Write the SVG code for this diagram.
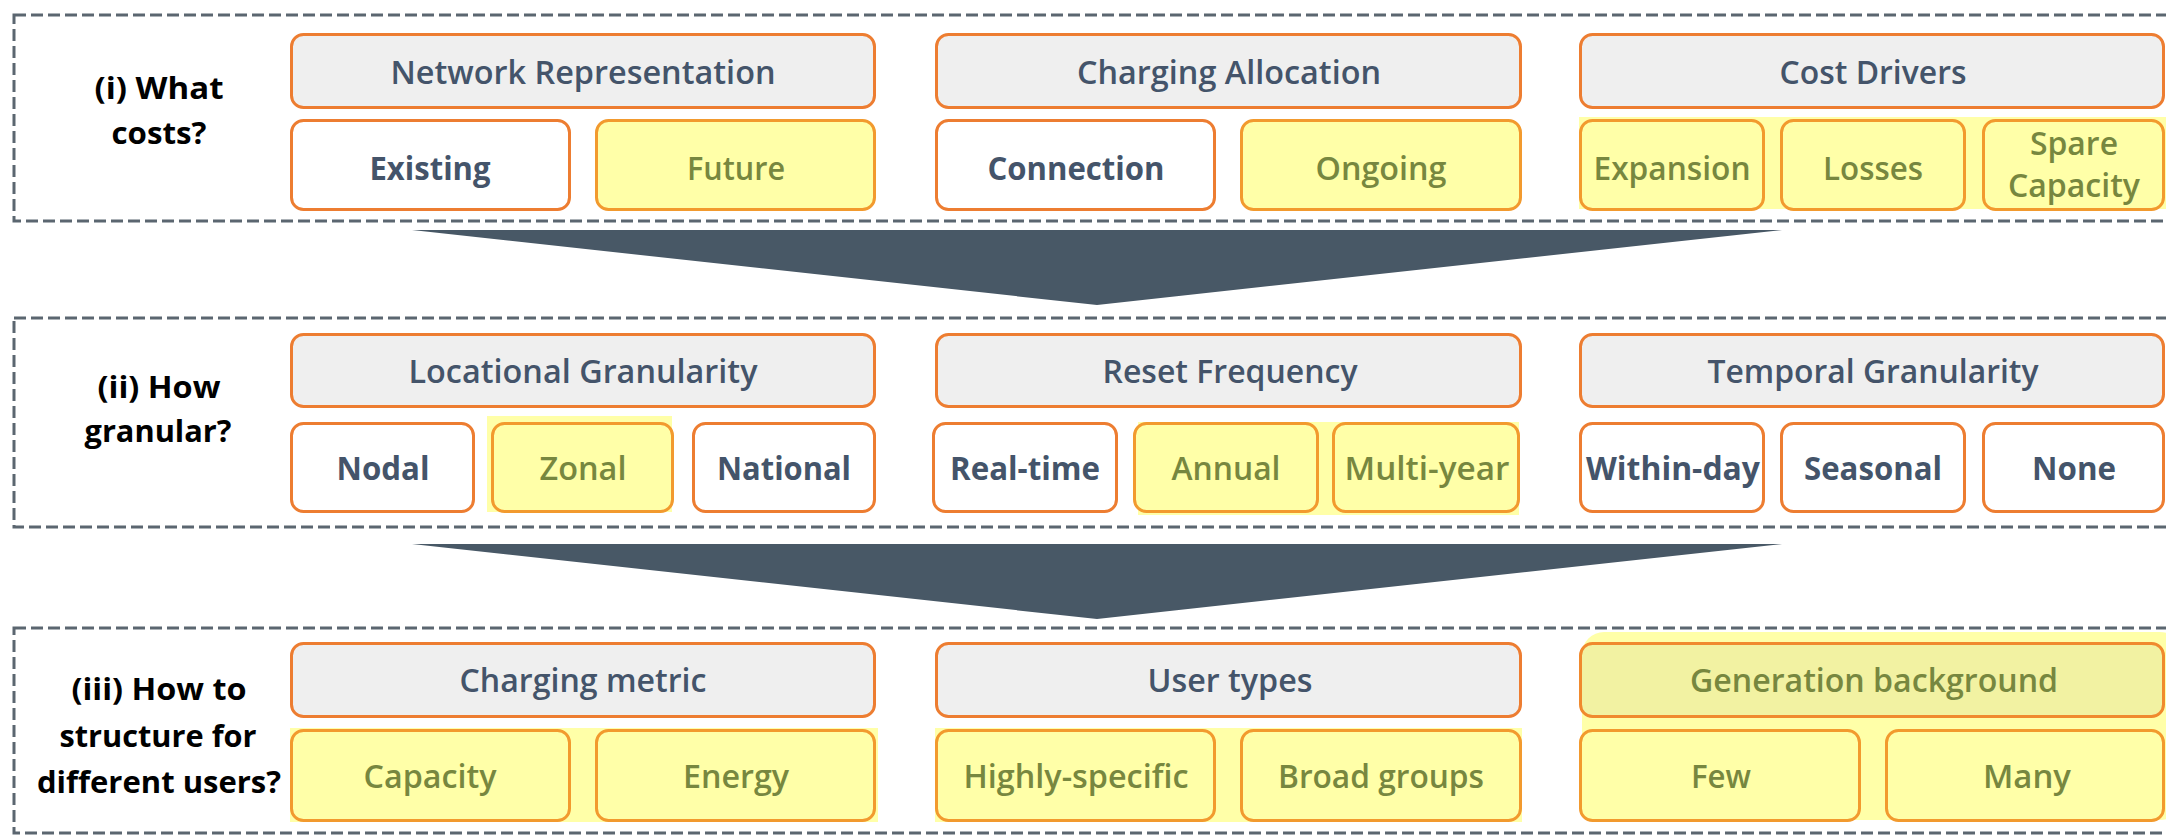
<svg xmlns="http://www.w3.org/2000/svg" width="2166" height="835" viewBox="0 0 2166 835">
<style>
.sec{fill:none;stroke:#5b6670;stroke-width:3;stroke-dasharray:12 5}
.hl{fill:#FFFFA8;stroke:none}
.hd{fill:#EFEFEF;stroke:#ED7D31;stroke-width:3}
.hdy{fill:#F2F2A2;stroke:#F08A2E;stroke-width:3}
.w{fill:#FFFFFF;stroke:#ED7D31;stroke-width:3}
.y{fill:#FFFFA8;stroke:#F29A2E;stroke-width:3}
text{font-family:"Open Sans","Liberation Sans",sans-serif;text-anchor:middle}
.th{font-size:32px;fill:#44546A;font-weight:600}
.ts{font-size:33px;fill:#44546A;font-weight:700}
.tsy{font-size:33px;fill:#77873F;font-weight:600}
.thy{font-size:32px;fill:#77873F;font-weight:600}
.lab{font-size:30px;fill:#000000;font-weight:700}
.arr{fill:#485866}
</style>

<!-- section frames -->
<g id="frames">
<rect class="sec" x="14" y="15" width="2170" height="206"/>
<rect class="sec" x="14" y="318" width="2170" height="209"/>
<rect class="sec" x="14" y="628" width="2170" height="205"/>
</g>

<!-- highlighter backgrounds -->
<g id="highlights">
<rect class="hl" x="1579" y="117" width="590" height="92"/>
<rect class="hl" x="487" y="416" width="185" height="96"/>
<rect class="hl" x="1138" y="422" width="381" height="93"/>
<rect class="hl" x="290" y="728" width="588" height="94"/>
<rect class="hl" x="935" y="728" width="587" height="94"/>
<rect class="hl" x="1582" y="632" width="600" height="188" rx="22"/>
</g>

<!-- connectors -->
<g id="connectors">
<polygon class="arr" points="412,230 1782,230 1097,305"/>
<polygon class="arr" points="412,544 1782,544 1097,619"/>
</g>

<!-- section labels -->
<g id="label-i">
<text class="lab" x="159" y="99" textLength="129" lengthAdjust="spacingAndGlyphs">(i) What</text>
<text class="lab" x="159" y="144" textLength="95" lengthAdjust="spacingAndGlyphs">costs?</text>
</g>
<g id="label-ii">
<text class="lab" x="159" y="398" textLength="123" lengthAdjust="spacingAndGlyphs">(ii) How</text>
<text class="lab" x="158" y="442" textLength="147" lengthAdjust="spacingAndGlyphs">granular?</text>
</g>
<g id="label-iii">
<text class="lab" x="159" y="700" textLength="175" lengthAdjust="spacingAndGlyphs">(iii) How to</text>
<text class="lab" x="158" y="747" textLength="197" lengthAdjust="spacingAndGlyphs">structure for</text>
<text class="lab" x="159" y="793" textLength="244" lengthAdjust="spacingAndGlyphs">different users?</text>
</g>

<!-- Section i -->
<g id="network-representation">
<rect class="hd" x="291.5" y="34.5" width="583" height="73" rx="12"/>
<text class="th" x="583" y="84" textLength="385" lengthAdjust="spacingAndGlyphs">Network Representation</text>
</g>
<g id="existing">
<rect class="w" x="291.5" y="120.5" width="278" height="89" rx="12"/>
<text class="ts" x="430" y="180" textLength="121" lengthAdjust="spacingAndGlyphs">Existing</text>
</g>
<g id="future">
<rect class="y" x="596.5" y="120.5" width="278" height="89" rx="12"/>
<text class="tsy" x="736" y="180" textLength="98" lengthAdjust="spacingAndGlyphs">Future</text>
</g>
<g id="charging-allocation">
<rect class="hd" x="936.5" y="34.5" width="584" height="73" rx="12"/>
<text class="th" x="1229" y="84" textLength="304" lengthAdjust="spacingAndGlyphs">Charging Allocation</text>
</g>
<g id="connection">
<rect class="w" x="936.5" y="120.5" width="278" height="89" rx="12"/>
<text class="ts" x="1076" y="180" textLength="177" lengthAdjust="spacingAndGlyphs">Connection</text>
</g>
<g id="ongoing">
<rect class="y" x="1241.5" y="120.5" width="279" height="89" rx="12"/>
<text class="tsy" x="1381" y="180" textLength="131" lengthAdjust="spacingAndGlyphs">Ongoing</text>
</g>
<g id="cost-drivers">
<rect class="hd" x="1580.5" y="34.5" width="583" height="73" rx="12"/>
<text class="th" x="1873" y="84" textLength="187" lengthAdjust="spacingAndGlyphs">Cost Drivers</text>
</g>
<g id="expansion">
<rect class="y" x="1580.5" y="120.5" width="183" height="89" rx="12"/>
<text class="tsy" x="1672" y="180" textLength="157" lengthAdjust="spacingAndGlyphs">Expansion</text>
</g>
<g id="losses">
<rect class="y" x="1781.5" y="120.5" width="183" height="89" rx="12"/>
<text class="tsy" x="1873" y="180" textLength="100" lengthAdjust="spacingAndGlyphs">Losses</text>
</g>
<g id="spare-capacity">
<rect class="y" x="1983.5" y="120.5" width="180" height="89" rx="12"/>
<text class="tsy" x="2074" y="155" textLength="88" lengthAdjust="spacingAndGlyphs">Spare</text>
<text class="tsy" x="2074" y="197" textLength="132" lengthAdjust="spacingAndGlyphs">Capacity</text>
</g>

<!-- Section ii -->
<g id="locational-granularity">
<rect class="hd" x="291.5" y="334.5" width="583" height="72" rx="12"/>
<text class="th" x="583" y="383" textLength="349" lengthAdjust="spacingAndGlyphs">Locational Granularity</text>
</g>
<g id="nodal">
<rect class="w" x="291.5" y="423.5" width="182" height="88" rx="12"/>
<text class="ts" x="383" y="480" textLength="93" lengthAdjust="spacingAndGlyphs">Nodal</text>
</g>
<g id="zonal">
<rect class="y" x="492.5" y="423.5" width="180" height="88" rx="12"/>
<text class="tsy" x="583" y="480" textLength="87" lengthAdjust="spacingAndGlyphs">Zonal</text>
</g>
<g id="national">
<rect class="w" x="693.5" y="423.5" width="181" height="88" rx="12"/>
<text class="ts" x="784" y="480" textLength="134" lengthAdjust="spacingAndGlyphs">National</text>
</g>
<g id="reset-frequency">
<rect class="hd" x="936.5" y="334.5" width="584" height="72" rx="12"/>
<text class="th" x="1230" y="383" textLength="255" lengthAdjust="spacingAndGlyphs">Reset Frequency</text>
</g>
<g id="real-time">
<rect class="w" x="933.5" y="423.5" width="183" height="88" rx="12"/>
<text class="ts" x="1025" y="480" textLength="150" lengthAdjust="spacingAndGlyphs">Real-time</text>
</g>
<g id="annual">
<rect class="y" x="1134.5" y="423.5" width="183" height="88" rx="12"/>
<text class="tsy" x="1226" y="480" textLength="109" lengthAdjust="spacingAndGlyphs">Annual</text>
</g>
<g id="multi-year">
<rect class="y" x="1333.5" y="423.5" width="185" height="88" rx="12"/>
<text class="tsy" x="1427" y="480" textLength="165" lengthAdjust="spacingAndGlyphs">Multi-year</text>
</g>
<g id="temporal-granularity">
<rect class="hd" x="1580.5" y="334.5" width="583" height="72" rx="12"/>
<text class="th" x="1873" y="383" textLength="331" lengthAdjust="spacingAndGlyphs">Temporal Granularity</text>
</g>
<g id="within-day">
<rect class="w" x="1580.5" y="423.5" width="183" height="88" rx="12"/>
<text class="ts" x="1673" y="480" textLength="174" lengthAdjust="spacingAndGlyphs">Within-day</text>
</g>
<g id="seasonal">
<rect class="w" x="1781.5" y="423.5" width="183" height="88" rx="12"/>
<text class="ts" x="1873" y="480" textLength="138" lengthAdjust="spacingAndGlyphs">Seasonal</text>
</g>
<g id="none">
<rect class="w" x="1983.5" y="423.5" width="180" height="88" rx="12"/>
<text class="ts" x="2074" y="480" textLength="84" lengthAdjust="spacingAndGlyphs">None</text>
</g>

<!-- Section iii -->
<g id="charging-metric">
<rect class="hd" x="291.5" y="643.5" width="583" height="73" rx="12"/>
<text class="th" x="583" y="692" textLength="247" lengthAdjust="spacingAndGlyphs">Charging metric</text>
</g>
<g id="capacity">
<rect class="y" x="291.5" y="730.5" width="278" height="90" rx="12"/>
<text class="tsy" x="430" y="788" textLength="133" lengthAdjust="spacingAndGlyphs">Capacity</text>
</g>
<g id="energy">
<rect class="y" x="596.5" y="730.5" width="278" height="90" rx="12"/>
<text class="tsy" x="736" y="788" textLength="106" lengthAdjust="spacingAndGlyphs">Energy</text>
</g>
<g id="user-types">
<rect class="hd" x="936.5" y="643.5" width="584" height="73" rx="12"/>
<text class="th" x="1230" y="692" textLength="165" lengthAdjust="spacingAndGlyphs">User types</text>
</g>
<g id="highly-specific">
<rect class="y" x="936.5" y="730.5" width="278" height="90" rx="12"/>
<text class="tsy" x="1076" y="788" textLength="225" lengthAdjust="spacingAndGlyphs">Highly-specific</text>
</g>
<g id="broad-groups">
<rect class="y" x="1241.5" y="730.5" width="279" height="90" rx="12"/>
<text class="tsy" x="1381" y="788" textLength="206" lengthAdjust="spacingAndGlyphs">Broad groups</text>
</g>
<g id="generation-background">
<rect class="hdy" x="1580.5" y="643.5" width="583" height="73" rx="12"/>
<text class="thy" x="1874" y="692" textLength="368" lengthAdjust="spacingAndGlyphs">Generation background</text>
</g>
<g id="few">
<rect class="y" x="1580.5" y="730.5" width="279" height="90" rx="12"/>
<text class="tsy" x="1721" y="788" textLength="60" lengthAdjust="spacingAndGlyphs">Few</text>
</g>
<g id="many">
<rect class="y" x="1886.5" y="730.5" width="277" height="90" rx="12"/>
<text class="tsy" x="2027" y="788" textLength="88" lengthAdjust="spacingAndGlyphs">Many</text>
</g>
</svg>
